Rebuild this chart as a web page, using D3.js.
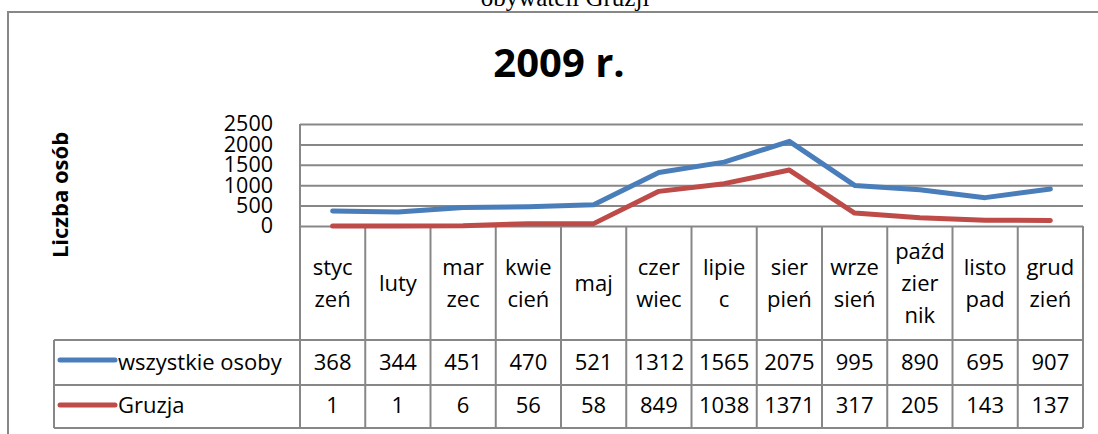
<!DOCTYPE html>
<html>
<head>
<meta charset="utf-8">
<script src="https://cdnjs.cloudflare.com/ajax/libs/d3/7.8.5/d3.min.js"></script>
<style>
  body { margin: 0; background: #fff; }
  svg { display: block; font-family: 'Open Sans', sans-serif; }
</style>
</head>
<body>
<svg id="chart" width="1098" height="434"></svg>
<script>
// miesiące (etykiety łamane jak w oryginale)
const months = [
  ['styc', 'zeń'], ['luty'], ['mar', 'zec'], ['kwie', 'cień'], ['maj'], ['czer', 'wiec'],
  ['lipie', 'c'], ['sier', 'pień'], ['wrze', 'sień'], ['paźd', 'zier', 'nik'], ['listo', 'pad'], ['grud', 'zień']
];
const allPersons = [368, 344, 451, 470, 521, 1312, 1565, 2075, 995, 890, 695, 907];
const georgia = [1, 1, 6, 56, 58, 849, 1038, 1371, 317, 205, 143, 137];
const yTicks = [0, 500, 1000, 1500, 2000, 2500];

const series = [
  { name: 'wszystkie osoby', values: allPersons, color: '#4a7ebb' },
  { name: 'Gruzja', values: georgia, color: '#be4b48' }
];

const gridColor = '#878787';
const svg = d3.select('#chart');
const keys = months.map(m => m.join(''));

const x = d3.scaleBand().domain(keys).range([300, 1083]);
const y = d3.scaleLinear().domain([0, 2500]).range([226, 124]);

// ramka dokumentu i podpis nad nią
svg.append('path')
  .attr('d', 'M8,434 L8,12 L1110,12')
  .style('fill', 'none')
  .style('stroke', gridColor)
  .style('stroke-width', 2);

svg.append('text')
  .attr('x', 565)
  .attr('y', 6)
  .attr('text-anchor', 'middle')
  .style('font-family', "'Liberation Serif', 'Times New Roman', serif")
  .style('font-size', '25px')
  .text('obywateli Gruzji');

svg.append('text')
  .attr('x', 559)
  .attr('y', 77)
  .attr('text-anchor', 'middle')
  .style('font-size', '40px')
  .style('font-weight', 'bold')
  .text('2009 r.');

svg.append('text')
  .attr('transform', 'translate(68, 195) rotate(-90)')
  .attr('text-anchor', 'middle')
  .style('font-size', '22px')
  .style('font-weight', 'bold')
  .text('Liczba osób');

// oś Y z liniami siatki
const yAxis = svg.append('g')
  .attr('transform', 'translate(300,0)')
  .call(d3.axisLeft(y).tickValues(yTicks).tickSize(-783).tickPadding(27).tickFormat(d3.format('d')));

yAxis.select('.domain').remove();
yAxis.selectAll('line').style('stroke', gridColor).style('stroke-width', 2);
yAxis.selectAll('text')
  .style('font-family', "'Open Sans', sans-serif")
  .style('font-size', '21.5px')
  .style('fill', '#000');

svg.append('line')
  .attr('x1', 300).attr('x2', 300)
  .attr('y1', y(2500)).attr('y2', y(0))
  .style('stroke', gridColor)
  .style('stroke-width', 2);

// tabela danych pod wykresem
const rowTop = 340;
const rowMid = 385;
const rowBottom = 428;

const table = svg.append('g').classed('data-table', true);
const edges = x.domain().map(k => x(k)).concat([x.range()[1]]);

table.selectAll('line.col')
  .data(edges)
  .enter()
  .append('line')
  .classed('col', true)
  .attr('x1', d => d).attr('x2', d => d)
  .attr('y1', y(0)).attr('y2', rowBottom);

table.selectAll('line.row')
  .data([rowTop, rowMid, rowBottom])
  .enter()
  .append('line')
  .classed('row', true)
  .attr('x1', 54).attr('x2', x.range()[1])
  .attr('y1', d => d).attr('y2', d => d);

table.append('line')
  .attr('x1', 54).attr('x2', 54)
  .attr('y1', rowTop).attr('y2', rowBottom);

table.selectAll('line')
  .style('stroke', gridColor)
  .style('stroke-width', 2);

// etykiety miesięcy (1-3 wiersze, wyśrodkowane)
const catLabels = svg.selectAll('text.cat')
  .data(months)
  .enter()
  .append('text')
  .classed('cat', true)
  .attr('text-anchor', 'middle')
  .style('font-size', '22px');

catLabels.selectAll('tspan')
  .data(d => d.map((t, i) => ({ t, i, n: d.length, key: d.join('') })))
  .enter()
  .append('tspan')
  .attr('x', d => x(d.key) + x.bandwidth() / 2)
  .attr('y', d => 291 + (d.i - (d.n - 1) / 2) * 32)
  .text(d => d.t);

// wiersze z wartościami i legendą
const rowBase = [370, 413];
const legendY = [360, 405];

series.forEach((s, si) => {
  svg.append('line')
    .attr('x1', 60).attr('x2', 115)
    .attr('y1', legendY[si]).attr('y2', legendY[si])
    .style('stroke', s.color)
    .style('stroke-width', 5)
    .style('stroke-linecap', 'round');

  svg.append('text')
    .attr('x', 118)
    .attr('y', rowBase[si])
    .style('font-size', '22px')
    .text(s.name);

  svg.selectAll(`text.val-${si}`)
    .data(s.values)
    .enter()
    .append('text')
    .classed(`val-${si}`, true)
    .attr('x', (d, i) => x(keys[i]) + x.bandwidth() / 2)
    .attr('y', rowBase[si])
    .attr('text-anchor', 'middle')
    .style('font-size', '22px')
    .text(d => d);
});

// linie serii
const toPath = d3.line()
  .x((d, i) => x(keys[i]) + x.bandwidth() / 2)
  .y(d => y(d));

svg.selectAll('path.series')
  .data(series)
  .enter()
  .append('path')
  .classed('series', true)
  .attr('d', d => toPath(d.values))
  .style('fill', 'none')
  .style('stroke', d => d.color)
  .style('stroke-width', 5)
  .style('stroke-linecap', 'round')
  .style('stroke-linejoin', 'round');
</script>
</body>
</html>
